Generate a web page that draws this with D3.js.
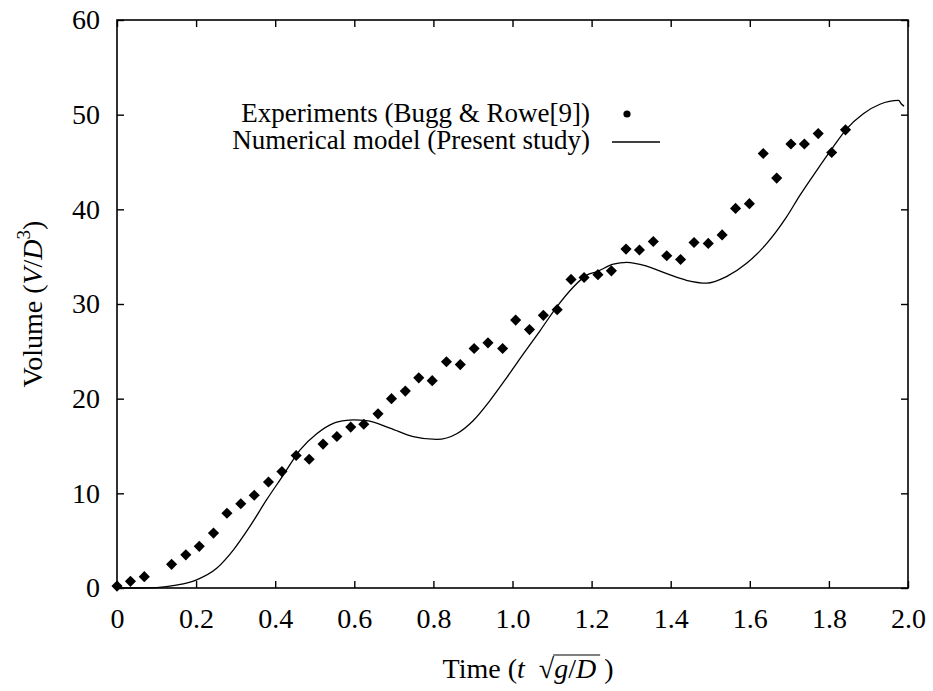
<!DOCTYPE html>
<html>
<head>
<meta charset="utf-8">
<script src="https://cdn.jsdelivr.net/npm/d3@7"></script>
<style>
  body { margin: 0; background: #fff; }
  svg, svg text { font-family: "Liberation Serif", Tinos, "Times New Roman", "DejaVu Serif", serif; }
</style>
</head>
<body>
<div id="wrapper"></div>
<script>

// data

const expTime = [0, 0.034, 0.069, 0.138, 0.174, 0.208, 0.244, 0.278, 0.313, 0.347,
  0.383, 0.417, 0.453, 0.486, 0.521, 0.556, 0.591, 0.624, 0.660, 0.694,
  0.729, 0.763, 0.797, 0.833, 0.868, 0.903, 0.938, 0.975, 1.008, 1.043,
  1.078, 1.113, 1.148, 1.181, 1.216, 1.250, 1.287, 1.321, 1.356, 1.390,
  1.425, 1.459, 1.495, 1.530, 1.564, 1.599, 1.634, 1.668, 1.704, 1.738,
  1.773, 1.807, 1.842];

const expVolume = [0.2, 0.7, 1.2, 2.5, 3.5, 4.4, 5.8, 7.9, 8.9, 9.8,
  11.2, 12.3, 14.0, 13.6, 15.2, 16.0, 17.0, 17.3, 18.4, 20.0,
  20.8, 22.2, 21.9, 23.9, 23.6, 25.3, 25.9, 25.3, 28.3, 27.3,
  28.8, 29.4, 32.6, 32.8, 33.1, 33.5, 35.8, 35.7, 36.6, 35.1,
  34.7, 36.5, 36.4, 37.3, 40.1, 40.6, 45.9, 43.3, 46.9, 46.9,
  48.0, 46.0, 48.4];

const modelTime = [0, 0.05, 0.1, 0.15, 0.2, 0.252, 0.294, 0.336, 0.378, 0.42,
  0.463, 0.505, 0.547, 0.58, 0.597, 0.631, 0.69, 0.749, 0.808, 0.859,
  0.901, 0.943, 0.985, 1.027, 1.07, 1.112, 1.154, 1.188, 1.212, 1.255,
  1.289, 1.339, 1.39, 1.44, 1.491, 1.541, 1.592, 1.643, 1.693, 1.727,
  1.769, 1.811, 1.845, 1.887, 1.929, 1.976, 1.984, 1.99];

const modelVolume = [0, 0, 0.05, 0.3, 0.84, 2.08, 4.0, 6.5, 9.3, 11.9,
  14.6, 16.3, 17.4, 17.7, 17.75, 17.67, 16.9, 16.0, 15.7, 16.3,
  17.7, 19.8, 22.2, 24.7, 27.2, 29.7, 31.8, 33.05, 33.4, 34.2,
  34.4, 34.0, 33.2, 32.5, 32.2, 32.9, 34.3, 36.4, 39.2, 41.5,
  44.1, 46.6, 48.5, 50.1, 51.1, 51.5, 51.1, 50.9];

const xTicks = [0, 0.2, 0.4, 0.6, 0.8, 1.0, 1.2, 1.4, 1.6, 1.8, 2.0];
const xTickLabels = ["0", "0.2", "0.4", "0.6", "0.8", "1.0", "1.2", "1.4", "1.6", "1.8", "2.0"];
const yTicks = [0, 10, 20, 30, 40, 50, 60];

const legendLabels = ["Experiments (Bugg & Rowe[9])", "Numerical model (Present study)"];

const serif = "'Liberation Serif', Tinos, 'Times New Roman', 'DejaVu Serif', serif";

// chart dimensions

const dms = {
  width: 933,
  height: 691,
  margins: { top: 20, right: 25, bottom: 103, left: 117 }
};
dms.innerWidth = dms.width - dms.margins.left - dms.margins.right;
dms.innerHeight = dms.height - dms.margins.top - dms.margins.bottom;

const svg = d3.select("#wrapper")
  .append("svg")
    .attr("width", dms.width)
    .attr("height", dms.height)
    .style("font-family", serif);

const inner = svg.append("g")
  .attr("transform", `translate(${dms.margins.left},${dms.margins.top})`);

// scales

const xScale = d3.scaleLinear().domain([0, 2]).range([0, dms.innerWidth]);
const yScale = d3.scaleLinear().domain([0, 60]).range([dms.innerHeight, 0]);

// axes (ticks point inward on all four sides)

const tickLen = 7;

const styleAxis = g => {
  g.attr("font-family", null).style("font-family", serif);
  g.select(".domain").remove();
  g.selectAll(".tick line").attr("stroke", "#000").attr("stroke-width", 1.4);
  g.selectAll(".tick text").attr("fill", "#000").attr("font-size", 28)
    .style("font-family", serif);
};

inner.append("g")
  .attr("transform", `translate(0,${dms.innerHeight})`)
  .call(d3.axisBottom(xScale).tickValues(xTicks)
    .tickFormat((d, i) => xTickLabels[i]).tickSize(-tickLen).tickPadding(20))
  .call(styleAxis);

inner.append("g")
  .call(d3.axisTop(xScale).tickValues(xTicks).tickFormat("").tickSize(-tickLen))
  .call(styleAxis);

inner.append("g")
  .call(d3.axisLeft(yScale).tickValues(yTicks).tickFormat(d3.format("d"))
    .tickSize(-tickLen).tickPadding(17))
  .call(styleAxis);

inner.append("g")
  .attr("transform", `translate(${dms.innerWidth},0)`)
  .call(d3.axisRight(yScale).tickValues(yTicks).tickFormat("").tickSize(-tickLen))
  .call(styleAxis);

inner.append("rect")
  .attr("width", dms.innerWidth)
  .attr("height", dms.innerHeight)
  .attr("fill", "none")
  .attr("stroke", "#000")
  .attr("stroke-width", 1.6);

// model line

const lineGenerator = d3.line()
  .x((d, i) => xScale(modelTime[i]))
  .y(d => yScale(d))
  .curve(d3.curveMonotoneX);

inner.append("path")
  .attr("d", lineGenerator(modelVolume))
  .attr("fill", "none")
  .attr("stroke", "#000")
  .attr("stroke-width", 1.3);

// experiment diamonds

const diamond = d3.symbol(d3.symbolSquare, 62);

inner.append("g")
  .selectAll("path")
  .data(expVolume)
  .join("path")
    .attr("d", diamond)
    .attr("transform", (d, i) => `translate(${xScale(expTime[i])},${yScale(d)}) rotate(45)`)
    .attr("fill", "#000");

// legend

const legend = svg.append("g").attr("font-size", 27).attr("fill", "#000");

legend.selectAll("text")
  .data(legendLabels)
  .join("text")
    .attr("x", 590)
    .attr("y", (d, i) => 122 + i * 27)
    .attr("text-anchor", "end")
    .style("font-family", serif)
    .text(d => d);

legend.append("circle")
  .attr("cx", 627)
  .attr("cy", 114)
  .attr("r", 3.6)
  .attr("fill", "#000");

legend.append("line")
  .attr("x1", 612).attr("x2", 660)
  .attr("y1", 142).attr("y2", 142)
  .attr("stroke", "#000")
  .attr("stroke-width", 1.3);

// y axis label

const yLabel = svg.append("text")
  .attr("transform", `translate(42,${dms.margins.top + dms.innerHeight / 2}) rotate(-90)`)
  .attr("text-anchor", "middle")
  .attr("font-size", 28)
  .style("font-family", serif);
yLabel.append("tspan").text("Volume (");
yLabel.append("tspan").attr("font-style", "italic").text("V");
yLabel.append("tspan").text("/");
yLabel.append("tspan").attr("font-style", "italic").text("D");
yLabel.append("tspan").attr("font-size", 19).attr("dy", -12).text("3");
yLabel.append("tspan").attr("dy", 12).text(")");

// x axis label: Time (t sqrt(g/D))

const xLabel = svg.append("g").attr("font-size", 28).style("font-family", serif);
const baseY = 678;
let cursor = 0;
const piece = (txt, italic, gap = 0) => {
  cursor += gap;
  const t = xLabel.append("text")
    .attr("x", cursor)
    .attr("y", baseY)
    .attr("font-style", italic ? "italic" : "normal")
    .style("font-family", serif)
    .text(txt);
  const start = cursor;
  cursor += t.node().getComputedTextLength();
  return { start, end: cursor };
};
piece("Time (", false);
piece("t", true);
const rad = piece("\u221A", false, 14);
piece("g", true);
piece("/", false);
const dPart = piece("D", true);
piece(")", false, 8);

xLabel.append("line")
  .attr("x1", rad.end - 1)
  .attr("x2", dPart.end + 4)
  .attr("y1", baseY - 23)
  .attr("y2", baseY - 23)
  .attr("stroke", "#000")
  .attr("stroke-width", 1.2);

const labelWidth = cursor;
xLabel.attr("transform", `translate(${528 - labelWidth / 2},0)`);

</script>
</body>
</html>
